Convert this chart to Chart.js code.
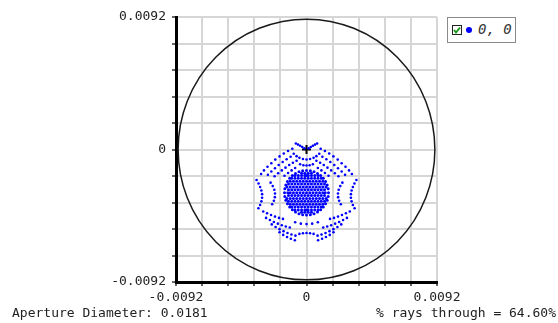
<!DOCTYPE html>
<html>
<head>
<meta charset="utf-8">
<script src="https://cdn.jsdelivr.net/npm/chart.js@4/dist/chart.umd.min.js"></script>
<style>
  body { margin: 0; background: #fff; }
  #wrap { position: relative; width: 558px; height: 323px; font-family: "DejaVu Sans Mono", monospace; color: #222; }
  #legend { position: absolute; left: 447px; top: 17px; width: 69px; height: 26px; border: 1px solid #8a8a8a; background: #fff; box-sizing: border-box; }
  #legend svg { position: absolute; left: 4px; top: 7px; }
  #legend .dot { position: absolute; left: 18px; top: 9px; width: 6px; height: 6px; border-radius: 50%; background: #0000ff; }
  #legend .txt { position: absolute; left: 30px; top: 3px; font-size: 14px; font-style: italic; color: #333; }
  .foot { position: absolute; top: 305px; font-size: 13px; white-space: pre; }
</style>
</head>
<body>
<div id="wrap">
  <canvas id="spot" width="558" height="323"></canvas>
  <div id="legend">
    <svg width="10" height="10"><rect x="0.5" y="0.5" width="9" height="9" fill="#fff" stroke="#222"/><polyline points="2,5 4,7.5 8,2.5" fill="none" stroke="#1a9a1a" stroke-width="2"/></svg>
    <span class="dot"></span>
    <span class="txt">0, 0</span>
  </div>
  <div class="foot" style="left:12px">Aperture Diameter: 0.0181</div>
  <div class="foot" style="right:2px">% rays through = 64.60%</div>
</div>
<script>
// spot coordinates below are in units of 1e-4 (image plane)
const UNIT = 1e-4;

// outer ray pattern (arcs and fans)
const spotX = [
  // top arcs
  -7.5, -6, -4.5, -3, -1.5, 1.5, 3, 4.5, 6, 7.5,
  -9, -7, -5, -2.5, 0, 2.5, 5, 7, 9,
  -4.5, -2.2, 0, 2.2, 4.5,
  // upper left fans
  -10, -13, -16, -19, -22, -24.8, -27.5, -30, -32,
  -11.2, -14, -16.8, -19.6, -22.2, -24.8, -27.2,
  -7, -9.6, -12.2, -14.8, -17.4, -20, -22.5,
  -8, -10.5, -13, -15.5,
  // upper right fans
  10, 13, 16, 19, 22, 24.8, 27.5, 30, 32,
  11.2, 14, 16.8, 19.6, 22.2, 24.8, 27.2,
  7, 9.6, 12.2, 14.8, 17.4, 20, 22.5,
  8, 10.5, 13, 15.5,
  // side arcs
  -35.2, -33.8, -32.7, -31.8, -31.3, -31.3, -31.8, -32.7, -33.9,
  -25.3, -23.8, -22.7, -22.2, -22.3, -23, -24.2,
  35.2, 33.8, 32.7, 31.8, 31.3, 31.3, 31.8, 32.7, 33.9,
  25.3, 23.8, 22.7, 22.2, 22.3, 23, 24.2,
  // lower left fans
  -30.5, -27.8, -25, -22.2, -19.4, -16.6,
  -28.5, -25.8, -23, -20.2, -17.4, -14.6, -11.8,
  -24.5, -21.8, -19, -16.2, -13.4, -10.6, -7.8,
  -19, -16.4, -13.7, -11, -8.2,
  // lower right fans
  30.5, 27.8, 25, 22.2, 19.4, 16.6,
  28.5, 25.8, 23, 20.2, 17.4, 14.6, 11.8,
  24.5, 21.8, 19, 16.2, 13.4, 10.6, 7.8,
  19, 16.4, 13.7, 11, 8.2,
  // bottom arcs
  -5, -2.5, 0, 2.5, 5,
  -8, -4, 0, 4, 8
];
const spotY = [
  4.2, 3.4, 2.6, 1.7, 0.8, 0.8, 1.7, 2.6, 3.4, 4.2,
  -3, -4.6, -5.8, -6.6, -6.9, -6.6, -5.8, -4.6, -3,
  -10.2, -10.9, -11.1, -10.9, -10.2,
  0.5, -1, -2.8, -4.8, -7, -9.5, -12, -14.5, -17,
  -5, -6.8, -8.7, -10.8, -13, -15.3, -17.6,
  -7.8, -9.2, -10.8, -12.6, -14.5, -16.5, -18.6,
  -12.8, -14.5, -16.3, -18.2,
  0.5, -1, -2.8, -4.8, -7, -9.5, -12, -14.5, -17,
  -5, -6.8, -8.7, -10.8, -13, -15.3, -17.6,
  -7.8, -9.2, -10.8, -12.6, -14.5, -16.5, -18.6,
  -12.8, -14.5, -16.3, -18.2,
  -21.2, -23.6, -26, -28.5, -31, -33.5, -36, -38.5, -40.8,
  -23, -25.4, -27.9, -30.5, -33.1, -35.6, -38,
  -21.2, -23.6, -26, -28.5, -31, -33.5, -36, -38.5, -40.8,
  -23, -25.4, -27.9, -30.5, -33.1, -35.6, -38,
  -43, -44.3, -45.5, -46.6, -47.5, -48.2,
  -47.5, -49, -50.3, -51.5, -52.6, -53.5, -54.2,
  -52, -53.8, -55.3, -56.7, -58, -59, -59.8,
  -57.5, -59.3, -60.8, -62, -63,
  -43, -44.3, -45.5, -46.6, -47.5, -48.2,
  -47.5, -49, -50.3, -51.5, -52.6, -53.5, -54.2,
  -52, -53.8, -55.3, -56.7, -58, -59, -59.8,
  -57.5, -59.3, -60.8, -62, -63,
  -58.6, -58.2, -58, -58.2, -58.6,
  -50.5, -51.5, -51.8, -51.5, -50.5
];

// dense core of the spot: rim of the core, then the core row by row
const rimX = [
  15.5, 15.27, 14.57, 13.42, 11.87, 9.96, 7.75, 5.3, 2.69, 0,
  -2.69, -5.3, -7.75, -9.96, -11.87, -13.42, -14.57, -15.27, -15.5,
  -15.27, -14.57, -13.42, -11.87, -9.96, -7.75, -5.3, -2.69, 0,
  2.69, 5.3, 7.75, 9.96, 11.87, 13.42, 14.57, 15.27
];
const rimY = [
  -30, -27.31, -24.7, -22.25, -20.04, -18.13, -16.58, -15.43, -14.73, -14.5,
  -14.73, -15.43, -16.58, -18.13, -20.04, -22.25, -24.7, -27.31, -30,
  -32.69, -35.3, -37.75, -39.96, -41.87, -43.42, -44.57, -45.27, -45.5,
  -45.27, -44.57, -43.42, -41.87, -39.96, -37.75, -35.3, -32.69
];
const diskRowY = [-16.5, -18, -20, -22, -24, -26, -28, -30, -32, -34, -36, -38, -40, -42, -43.5];
const diskRowX = [
  [-3.5, -1.2, 1.2, 3.5],
  [-8.1, -5.8, -3.5, -1.2, 0, 1.2, 3.5, 5.8, 8.1],
  [-10.4, -8.1, -5.8, -3.5, -1.2, 1.2, 3.5, 5.8, 8.1, 10.4],
  [-11.5, -9.2, -6.9, -4.6, -2.3, 0, 2.3, 4.6, 6.9, 9.2, 11.5],
  [-12.7, -10.4, -8.1, -5.8, -3.5, -1.2, 1.2, 3.5, 5.8, 8.1, 10.4, 12.7],
  [-13.8, -11.5, -9.2, -6.9, -4.6, -2.3, 0, 2.3, 4.6, 6.9, 9.2, 11.5, 13.8],
  [-12.7, -10.4, -8.1, -5.8, -3.5, -1.2, 1.2, 3.5, 5.8, 8.1, 10.4, 12.7],
  [-13.2, -11.5, -9.2, -6.9, -4.6, -2.3, 0, 2.3, 4.6, 6.9, 9.2, 11.5, 13.2],
  [-12.7, -10.4, -8.1, -5.8, -3.5, -1.2, 1.2, 3.5, 5.8, 8.1, 10.4, 12.7],
  [-13.8, -11.5, -9.2, -6.9, -4.6, -2.3, 0, 2.3, 4.6, 6.9, 9.2, 11.5, 13.8],
  [-12.7, -10.4, -8.1, -5.8, -3.5, -1.2, 1.2, 3.5, 5.8, 8.1, 10.4, 12.7],
  [-11.5, -9.2, -6.9, -4.6, -2.3, 0, 2.3, 4.6, 6.9, 9.2, 11.5],
  [-10.4, -8.1, -5.8, -3.5, -1.2, 1.2, 3.5, 5.8, 8.1, 10.4],
  [-8.1, -5.8, -3.5, -1.2, 0, 1.2, 3.5, 5.8, 8.1],
  [-3.5, -1.2, 1.2, 3.5]
];

const chiefRay = [{ x: 0, y: 0 }];
const apertureDiameter = 0.0181;
const axisMin = -0.0092, axisMax = 0.0092, axisStep = 0.00184;
const tickLabels = ['-0.0092', '0', '0.0092'];

const outerPoints = spotX.map((x, i) => ({ x: x * UNIT, y: spotY[i] * UNIT }));
const corePoints = rimX.map((x, i) => ({ x: x * UNIT, y: rimY[i] * UNIT }));
diskRowY.forEach((y, r) => {
  diskRowX[r].forEach(x => corePoints.push({ x: x * UNIT, y: y * UNIT }));
});

// aperture circle drawn under the rays
const aperturePlugin = {
  id: 'aperture',
  beforeDatasetsDraw(chart) {
    const { x, y } = chart.scales;
    const ctx = chart.ctx;
    const cx = x.getPixelForValue(0), cy = y.getPixelForValue(0);
    const rx = Math.abs(x.getPixelForValue(apertureDiameter / 2) - cx);
    const ry = Math.abs(y.getPixelForValue(apertureDiameter / 2) - cy);
    ctx.save();
    ctx.beginPath();
    ctx.ellipse(cx, cy, rx, ry, 0, 0, Math.PI * 2);
    ctx.strokeStyle = '#1a1a1a';
    ctx.lineWidth = 1.5;
    ctx.stroke();
    ctx.restore();
  }
};

function axis(fit) {
  return {
    type: 'linear',
    min: axisMin,
    max: axisMax,
    afterFit: fit,
    border: { display: true, color: '#000', width: 3 },
    grid: { color: '#d6d6d6', lineWidth: 2, drawTicks: true, tickLength: 4, tickColor: '#333', tickWidth: 1.5 },
    ticks: {
      stepSize: axisStep,
      autoSkip: false,
      maxRotation: 0,
      padding: 4,
      color: '#222',
      font: { family: '"DejaVu Sans Mono", monospace', size: 13 },
      callback: (v, i) => (i % 5 === 0 ? tickLabels[i / 5] : '')
    }
  };
}

const xAxis = axis(s => { s.height = 41; });
const yAxis = axis(s => { s.width = 176; });
yAxis.ticks.padding = 6;

new Chart(document.getElementById('spot'), {
  type: 'scatter',
  data: {
    datasets: [{
      label: '0, 0',
      data: outerPoints,
      backgroundColor: '#0000ff',
      borderWidth: 0,
      pointRadius: 1.3
    },
    {
      label: '0, 0 core',
      data: corePoints,
      backgroundColor: '#0000ff',
      borderWidth: 0,
      pointRadius: 1.5
    },
    {
      label: 'chief',
      data: chiefRay,
      pointStyle: 'cross',
      pointRadius: 4.5,
      borderColor: '#000',
      borderWidth: 2
    }]
  },
  options: {
    responsive: false,
    animation: false,
    layout: { padding: { left: 0, right: 121, top: 17, bottom: 0 } },
    scales: { x: xAxis, y: yAxis },
    plugins: {
      legend: { display: false },
      tooltip: { enabled: false }
    }
  },
  plugins: [aperturePlugin]
});
</script>
</body>
</html>
